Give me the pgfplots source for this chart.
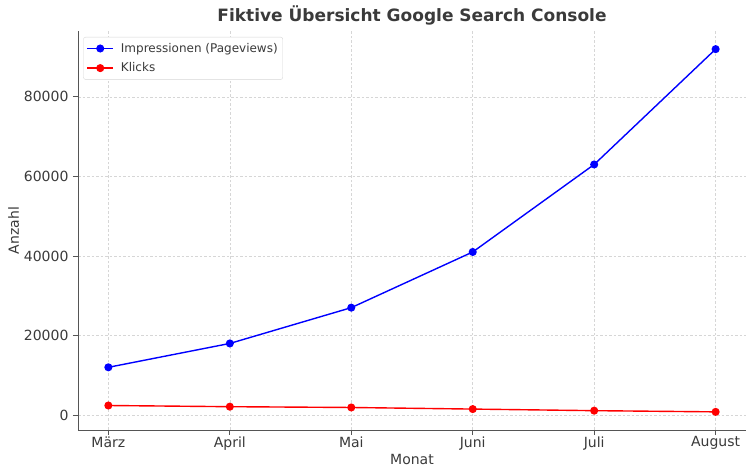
\documentclass[border=0pt]{standalone}
\usepackage{pgfplots}
\pgfplotsset{compat=1.18}
\usepackage{fontspec}
\setmainfont{DejaVu Sans}
\definecolor{txt}{HTML}{3A3A3A}
\definecolor{spine}{HTML}{555555}
\definecolor{gridc}{HTML}{D6D6D6}
\begin{document}
\begin{tikzpicture}[x=1pt,y=1pt]
\useasboundingbox (0,0) rectangle (755,476);
\begin{axis}[
  at={(78pt,46pt)}, anchor=south west,
  scale only axis, width=668pt, height=399pt,
  xmin=-0.25, xmax=5.25, ymin=-3760, ymax=96560,
  axis x line*=bottom, axis y line*=left,
  x axis line style={-}, y axis line style={-},
  axis line style={draw=spine, line width=0.9pt},
  xtick={0,1,2,3,4,5},
  xticklabels={März,April,Mai,Juni,Juli,August},
  ytick={0,20000,40000,60000,80000},
  scaled y ticks=false,
  /pgf/number format/.cd, set thousands separator={}, assume math mode=true, /pgfplots/.cd,
  tick align=outside, major tick length=5pt,
  tick style={draw=spine, line width=0.8pt},
  ticklabel style={font=\fontsize{14}{16}\selectfont, text=txt},
  xticklabel style={yshift=2pt},
  yticklabel style={xshift=-1pt},
  grid=major,
  major grid style={draw=gridc, dash pattern=on 2.5pt off 2pt, line width=0.6pt},
  xlabel={Monat}, ylabel={Anzahl},
  label style={font=\fontsize{14}{16}\selectfont, text=txt},
  xlabel style={yshift=3pt},
  ylabel style={yshift=-2pt},
  title={\textbf{Fiktive Übersicht Google Search Console}},
  title style={font=\fontsize{17}{20}\selectfont, text=txt, yshift=-4pt},
  legend style={at={(0.008,0.985)}, anchor=north west, draw=gridc, rounded corners=2pt,
    font=\fontsize{12}{14}\selectfont, text=txt, row sep=5pt, inner xsep=3pt, inner ysep=4pt,
    /tikz/every odd column/.append style={column sep=5pt}},
  legend cell align=left,
  legend image code/.code={
    \draw[#1] (0pt,0pt) -- (26pt,0pt);
    \draw[#1, only marks] plot coordinates {(13pt,0pt)};
  },
]
\addplot[blue, line width=1.4pt, mark=*, mark size=3.3pt, mark options={fill=blue, draw=blue}]
  coordinates {(0,12000) (1,18000) (2,27000) (3,41000) (4,63000) (5,92000)};
\addlegendentry{Impressionen (Pageviews)}
\addplot[red, line width=1.4pt, mark=*, mark size=3.3pt, mark options={fill=red, draw=red}]
  coordinates {(0,2400) (1,2100) (2,1900) (3,1500) (4,1100) (5,800)};
\addlegendentry{Klicks}
\end{axis}
\end{tikzpicture}
\end{document}
